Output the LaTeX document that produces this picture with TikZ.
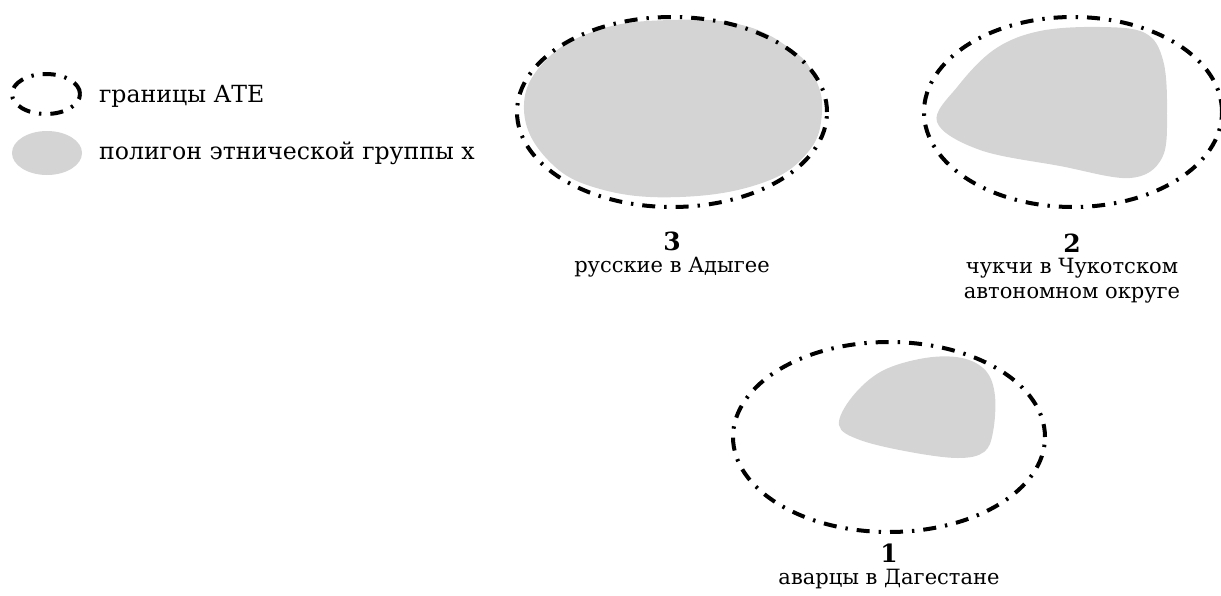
\documentclass[tikz,border=0pt]{standalone}
\usepackage{fontspec}
\setmainfont{DejaVu Serif}
\usepackage{tikz}
\usetikzlibrary{shapes.geometric, positioning}
\definecolor{polygray}{RGB}{212,212,212}

\begin{document}
\begin{tikzpicture}[x=0.5pt, y=-0.5pt,
        ateborder/.style={draw, ellipse, line width=2pt, dash pattern=on 6.5pt off 4.5pt on 1.2pt off 4.5pt, inner sep=0pt},
        ethnic/.style={fill=polygray, draw=none},
        legendtext/.style={anchor=west, font=\fontsize{11.8}{14}\selectfont},
        capnum/.style={font=\fontsize{12.5}{14}\selectfont\bfseries},
        captext/.style={align=center, font=\fontsize{10.5}{12.5}\selectfont}]
        \useasboundingbox (0,0) rectangle (1221,595);

        % Legend
        \node [ateborder, minimum width=34pt, minimum height=20pt] (legate) at (46,94) {};
        \node [legendtext] (legatetext) at (92,96) {границы АТЕ};
        \node [ethnic, ellipse, minimum width=35pt, minimum height=22pt] (legpoly) at (47,153) {};
        \node [legendtext] (legpolytext) at (92,153) {полигон этнической группы х};

        % 3 -- Adygea
        \fill [ethnic] plot [smooth cycle, tension=0.7] coordinates {(524,110) (544,62) (598,30) (670,20) (742,25) (792,50) (814,76) (822,112) (808,152) (762,183) (680,197) (600,189) (548,160)};
        \node [ateborder, minimum width=155pt, minimum height=95pt] (ate3) at (672,112) {};
        \node [capnum] (num3) at (672,241) {3};
        \node [captext] (cap3) at (672,267) {русские в Адыгее};

        % 2 -- Chukotka
        \fill [ethnic] plot [smooth cycle, tension=0.6] coordinates {(937,122) (958,86) (995,49) (1040,31) (1100,27) (1145,33) (1163,60) (1167,110) (1162,158) (1130,178) (1060,166) (980,150)};
        \node [ateborder, minimum width=149pt, minimum height=95pt] (ate2) at (1073,112) {};
        \node [capnum] (num2) at (1072,243) {2};
        \node [captext] (cap2) at (1072,281) {чукчи в Чукотском\\автономном округе};

        % 1 -- Dagestan
        \fill [ethnic] plot [smooth cycle, tension=0.6] coordinates {(839,425) (852,397) (882,371) (925,358) (962,358) (986,371) (995,396) (993,432) (984,452) (958,458) (910,452) (860,440)};
        \node [ateborder, minimum width=156pt, minimum height=95pt] (ate1) at (889,437) {};
        \node [capnum] (num1) at (889,553) {1};
        \node [captext] (cap1) at (889,579) {аварцы в Дагестане};
    \end{tikzpicture}
\end{document}
